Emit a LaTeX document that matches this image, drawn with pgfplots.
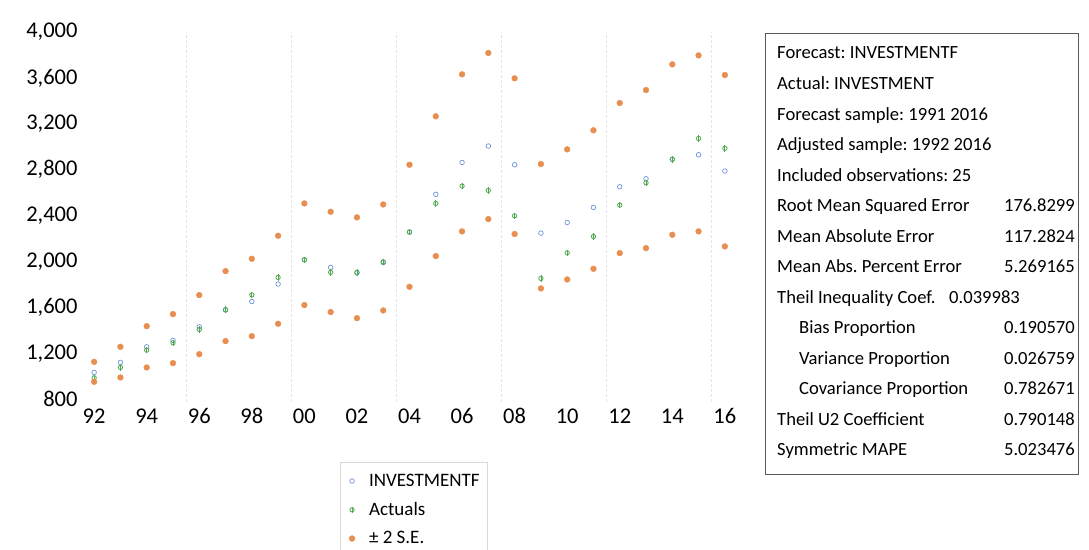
\documentclass[border=0pt]{standalone}
\usepackage{fontspec}
\setmainfont{Carlito}
\usepackage{pgfplots}
\usepackage{pgfplotstable}
\pgfplotsset{compat=1.18}
\frenchspacing
\definecolor{fblue}{RGB}{112,146,214}
\definecolor{agreen}{RGB}{80,168,80}
\definecolor{seorange}{RGB}{232,142,80}
\pgfdeclareplotmark{phi}{%
  \pgfpathcircle{\pgfpointorigin}{\pgfplotmarksize}\pgfusepathqstroke
  \pgfpathmoveto{\pgfpoint{0pt}{-1.45\pgfplotmarksize}}%
  \pgfpathlineto{\pgfpoint{0pt}{1.45\pgfplotmarksize}}\pgfusepathqstroke}
\pgfplotstableread{
Year F A Up Lo
1992 1033 986 1125 951
1993 1120 1076 1256 989
1994 1256 1227 1436 1076
1995 1312 1291 1541 1114
1996 1430 1407 1707 1192
1997 1576 1580 1916 1306
1998 1651 1709 2023 1349
1999 1803 1861 2224 1457
2000 2015 2015 2506 1620
2001 1948 1905 2433 1559
2002 1900 1905 2384 1506
2003 1990 1997 2497 1573
2004 2256 2256 2843 1779
2005 2585 2506 3265 2047
2006 2863 2657 3631 2262
2007 3006 2619 3817 2369
2008 2843 2398 3596 2239
2009 2247 1852 2849 1765
2010 2340 2076 2977 1843
2011 2471 2218 3143 1936
2012 2651 2491 3381 2073
2013 2721 2686 3494 2116
2014 2890 2890 3718 2233
2015 2930 3072 3796 2262
2016 2788 2986 3625 2131
}\data
\begin{document}
\begin{tikzpicture}
\path[use as bounding box] (0,0) rectangle (1089bp,550bp);
\begin{axis}[
  at={(81bp,148bp)}, anchor=south west,
  scale only axis, width=657bp, height=370bp,
  xmin=1991.5, xmax=2016.5, ymin=775, ymax=4000,
  axis line style={draw=none}, tick style={draw=none},
  xtick={1992,1994,...,2016},
  xticklabels={92,94,96,98,00,02,04,06,08,10,12,14,16},
  ytick={800,1200,...,4000},
  scaled y ticks=false,
  /pgf/number format/assume math mode=true,
  ticklabel style={font=\fontsize{22.5bp}{24bp}\selectfont},
  xticklabel style={yshift=-3bp},
  extra x ticks={1995.5,1999.5,2003.5,2007.5,2011.5,2015.5},
  extra x tick labels={},
  extra x tick style={grid=major, grid style={densely dashed, black!10, line width=0.6bp}},
  legend style={at={(axis description cs:0.394,-0.162)}, anchor=north west,
    draw=black!15, font=\fontsize{19bp}{21bp}\selectfont, row sep=10.5bp,
    inner xsep=6bp, inner ysep=10bp},
  legend cell align=left,
  legend image code/.code={\path[draw=none,fill=none] (0bp,0bp) -- (21bp,0bp); \draw[#1] plot coordinates {(6bp,0bp)};},
]
\addplot[only marks, mark=o, mark size=2.3bp, fblue, line width=0.7bp] table[x=Year,y=F]{\data};
\addlegendentry{INVESTMENTF}
\addplot[only marks, mark=phi, mark size=2.2bp, agreen, line width=0.8bp] table[x=Year,y=A]{\data};
\addlegendentry{Actuals}
\addplot[only marks, mark=*, mark size=2.9bp, seorange, mark options={fill=seorange}] table[x=Year,y=Up]{\data};
\addlegendentry{± 2 S.E.}
\addplot[only marks, mark=*, mark size=2.9bp, seorange, mark options={fill=seorange}, forget plot] table[x=Year,y=Lo]{\data};
\end{axis}
\draw[black!65, line width=0.8bp] (765bp,76bp) rectangle (1078bp,517bp);
\begin{scope}[every node/.style={inner sep=0pt, font=\fontsize{18.6bp}{20bp}\selectfont}]
\node[anchor=base west] at (777bp,491.0bp) {Forecast: INVESTMENTF};
\node[anchor=base west] at (777bp,460.5bp) {Actual: INVESTMENT};
\node[anchor=base west] at (777bp,429.9bp) {Forecast sample: 1991 2016};
\node[anchor=base west] at (777bp,399.4bp) {Adjusted sample: 1992 2016};
\node[anchor=base west] at (777bp,368.8bp) {Included observations: 25};
\node[anchor=base west] at (777bp,338.3bp) {Root Mean Squared Error};
\node[anchor=base east] at (1075bp,338.3bp) {176.8299};
\node[anchor=base west] at (777bp,307.8bp) {Mean Absolute Error};
\node[anchor=base east] at (1075bp,307.8bp) {117.2824};
\node[anchor=base west] at (777bp,277.2bp) {Mean Abs. Percent Error};
\node[anchor=base east] at (1075bp,277.2bp) {5.269165};
\node[anchor=base west] at (777bp,246.7bp) {Theil Inequality Coef.};
\node[anchor=base west] at (949bp,246.7bp) {0.039983};
\node[anchor=base west] at (799bp,216.1bp) {Bias Proportion};
\node[anchor=base east] at (1075bp,216.1bp) {0.190570};
\node[anchor=base west] at (799bp,185.6bp) {Variance Proportion};
\node[anchor=base east] at (1075bp,185.6bp) {0.026759};
\node[anchor=base west] at (799bp,155.0bp) {Covariance Proportion};
\node[anchor=base east] at (1075bp,155.0bp) {0.782671};
\node[anchor=base west] at (777bp,124.5bp) {Theil U2 Coefficient};
\node[anchor=base east] at (1075bp,124.5bp) {0.790148};
\node[anchor=base west] at (777bp,94.0bp) {Symmetric MAPE};
\node[anchor=base east] at (1075bp,94.0bp) {5.023476};
\end{scope}
\end{tikzpicture}
\end{document}
